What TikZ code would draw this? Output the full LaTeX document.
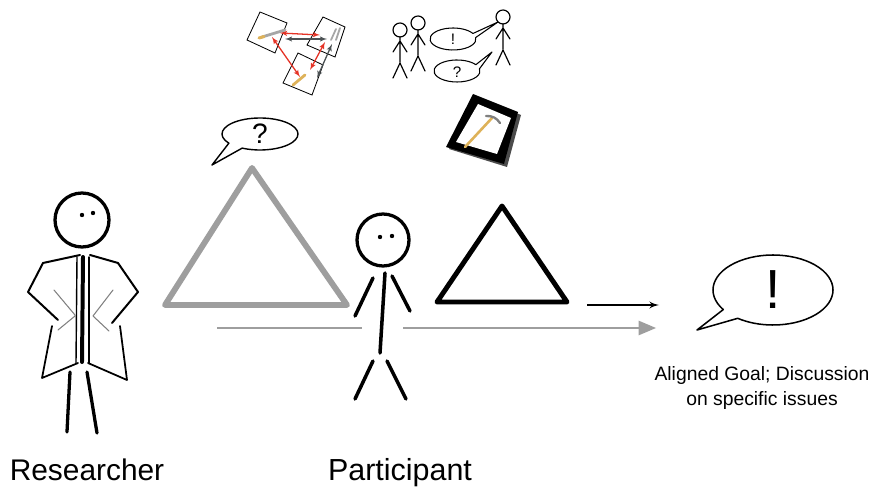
\documentclass[tikz,border=0pt]{standalone}
\usepackage{fontspec}
\setmainfont{Liberation Sans}
\usetikzlibrary{arrows}
\tikzset{stroke/.style = {line width=#1, line cap=round, line join=round}}
\tikzset{bubble/.style = {line width=#1, fill=white, line join=round}}
\tikzset{card/.style = {line width=0.7pt, fill=white}}
\tikzset{link/.style = {line width=1.1pt, latex'-latex'}}
\definecolor{tgrey}{rgb}{0.62, 0.62, 0.62}
\definecolor{lred}{rgb}{0.9, 0.2, 0.15}
\definecolor{dgrey}{rgb}{0.3, 0.32, 0.33}
\definecolor{handle}{rgb}{0.87, 0.7, 0.35}
% speech bubble: centre, x radius, y radius, gap from angle #4 to #5, tail tip, line width
\newcommand{\speech}[7]{%
  \draw [bubble=#7] (#1) ++(#5:#2 and #3)
    arc [start angle=#5, end angle=#4+360, x radius=#2, y radius=#3]
    -- (#6) -- cycle;}

\begin{document}
\begin{tikzpicture}[x=0.03cm, y=-0.03cm]
    \useasboundingbox (0, 0) rectangle (879, 487);

    % researcher in a lab coat
    \draw [stroke=2.8pt] (82, 220) circle [radius=27];
    \fill (82, 215) circle [radius=2.2] (93, 213) circle [radius=2.2];
    \draw [stroke=1.7pt] (80, 255) -- (43, 263) -- (28, 292) -- (58, 320);
    \draw [stroke=1.7pt] (90, 255) -- (118, 263) -- (138, 292) -- (112, 323);
    \draw [stroke=1.5pt] (52, 326) -- (42, 378) -- (78, 363);
    \draw [stroke=1.5pt] (120, 326) -- (127, 380) -- (88, 363);
    \draw [stroke=3.4pt] (83, 257) -- (82, 362);
    \draw [stroke=1.2pt] (77, 257) -- (76, 363);
    \draw [stroke=1.2pt] (89, 257) -- (89, 363);
    \draw [stroke=0.9pt, gray] (54, 290) -- (75, 315) (58, 330) -- (75, 316)
                               (113, 290) -- (93, 316) (109, 331) -- (93, 316);
    \draw [stroke=2.8pt] (70, 372) -- (67, 432);
    \draw [stroke=2.8pt] (87, 372) -- (97, 433);
    \node (researcher) [anchor=base, font=\fontsize{25.5}{30}\selectfont] at (87, 480) {Researcher};

    % grey triangle with its question
    \draw [stroke=5pt, tgrey] (252, 168) -- (347, 305) -- (165, 305) -- cycle;
    \speech{260, 134}{38}{16}{118}{145}{212, 165}{1.2pt}
    \node (question) [font=\fontsize{24}{28}\selectfont] at (260, 134) {?};

    % grey arrow running under the participant
    \coordinate (g1) at (217, 328);
    \coordinate (g2) at (362, 328);
    \coordinate (g3) at (403, 328);
    \coordinate (g4) at (656, 328);
    \draw [line width=2.5pt, tgrey] (g1) -- (g2);
    \draw [line width=2.5pt, tgrey, -triangle 45] (g3) -- (g4);

    % participant
    \draw [stroke=2.8pt] (383, 240) circle [radius=26];
    \fill (380, 237) circle [radius=2.2] (392, 236) circle [radius=2.2];
    \draw [stroke=3pt] (385, 273) -- (380, 353);
    \draw [stroke=3pt] (373, 278) -- (355, 316);
    \draw [stroke=3pt] (392, 276) -- (410, 311);
    \draw [stroke=3pt] (373, 361) -- (355, 399);
    \draw [stroke=3pt] (387, 361) -- (406, 399);
    \node (participant) [anchor=base, font=\fontsize{26}{30}\selectfont] at (400, 480) {Participant};

    % black triangle and arrow to the answer
    \draw [stroke=4.2pt] (502, 206) -- (567, 302) -- (437, 302) -- cycle;
    \coordinate (b1) at (587, 305);
    \coordinate (b2) at (659, 305);
    \draw [line width=1.8pt, -latex'] (b1) -- (b2);
    \speech{773, 290}{60}{35}{126}{146}{697, 330}{1.3pt}
    \node (answer) [font=\fontsize{47}{50}\selectfont] at (773, 290) {!};
    \node (goal) [font=\fontsize{16.5}{21}\selectfont, align=center, anchor=base]
      at (762, 405) {Aligned Goal; Discussion\\on specific issues};

    % cards with tools and links between them
    \draw [card] (260, 12) -- (287, 23) -- (275, 53) -- (247, 40) -- cycle;
    \draw [card] (323, 17) -- (345, 27) -- (335, 57) -- (307, 45) -- cycle;
    \draw [card] (298, 53) -- (323, 65) -- (312, 95) -- (283, 83) -- cycle;
    \draw [stroke=2.4pt, gray!70] (262, 37) -- (285, 30);
    \draw [stroke=2.6pt, handle] (259, 38) -- (264, 36.5);
    \draw [stroke=1.5pt, gray!70] (331, 40) -- (336, 29) (336, 40) -- (340, 28);
    \draw [stroke=2.4pt, handle] (293, 85) -- (305, 75);
    \draw [link, lred] (280, 33) -- (320, 35);
    \draw [link, dgrey] (285, 39) -- (327, 39);
    \draw [link, lred] (272, 37) -- (300, 77);
    \draw [link, lred] (325, 42) -- (310, 70);
    \draw [link, dgrey] (332, 44) -- (317, 78);

    % small group talking
    \foreach \x/\y in {400/30, 418/23, 503/17} {
      \begin{scope}[shift={(\x, \y)}]
        \draw [stroke=1pt] (0, 0) circle [radius=7];
        \draw [stroke=1pt] (0, 7) -- (0, 32) (-7, 22) -- (0, 11) -- (7, 22)
                           (-7, 48) -- (0, 33) -- (7, 48);
      \end{scope}
    }
    \speech{453, 39}{23}{11}{330}{352}{498, 22}{0.9pt}
    \node (exclaim) [font=\fontsize{13}{15}\selectfont] at (453, 39) {!};
    \speech{457, 71}{23}{11}{325}{348}{492, 52}{0.9pt}
    \node (wonder) [font=\fontsize{13}{15}\selectfont] at (457, 72) {?};

    % tablet showing a hammer
    \fill [black!70] (476, 96) -- (521, 115) -- (507, 167) -- (449, 149) -- cycle;
    \fill (473, 94) -- (518, 112) -- (504, 164) -- (446, 147) -- cycle;
    \fill [white] (478, 104) -- (511, 118) -- (497, 154) -- (456, 142) -- cycle;
    \draw [stroke=2.2pt, handle] (465, 147) -- (492, 118);
    \draw [stroke=2pt, gray] (486, 116) to [bend left=30] (500, 123);
\end{tikzpicture}
\end{document}
